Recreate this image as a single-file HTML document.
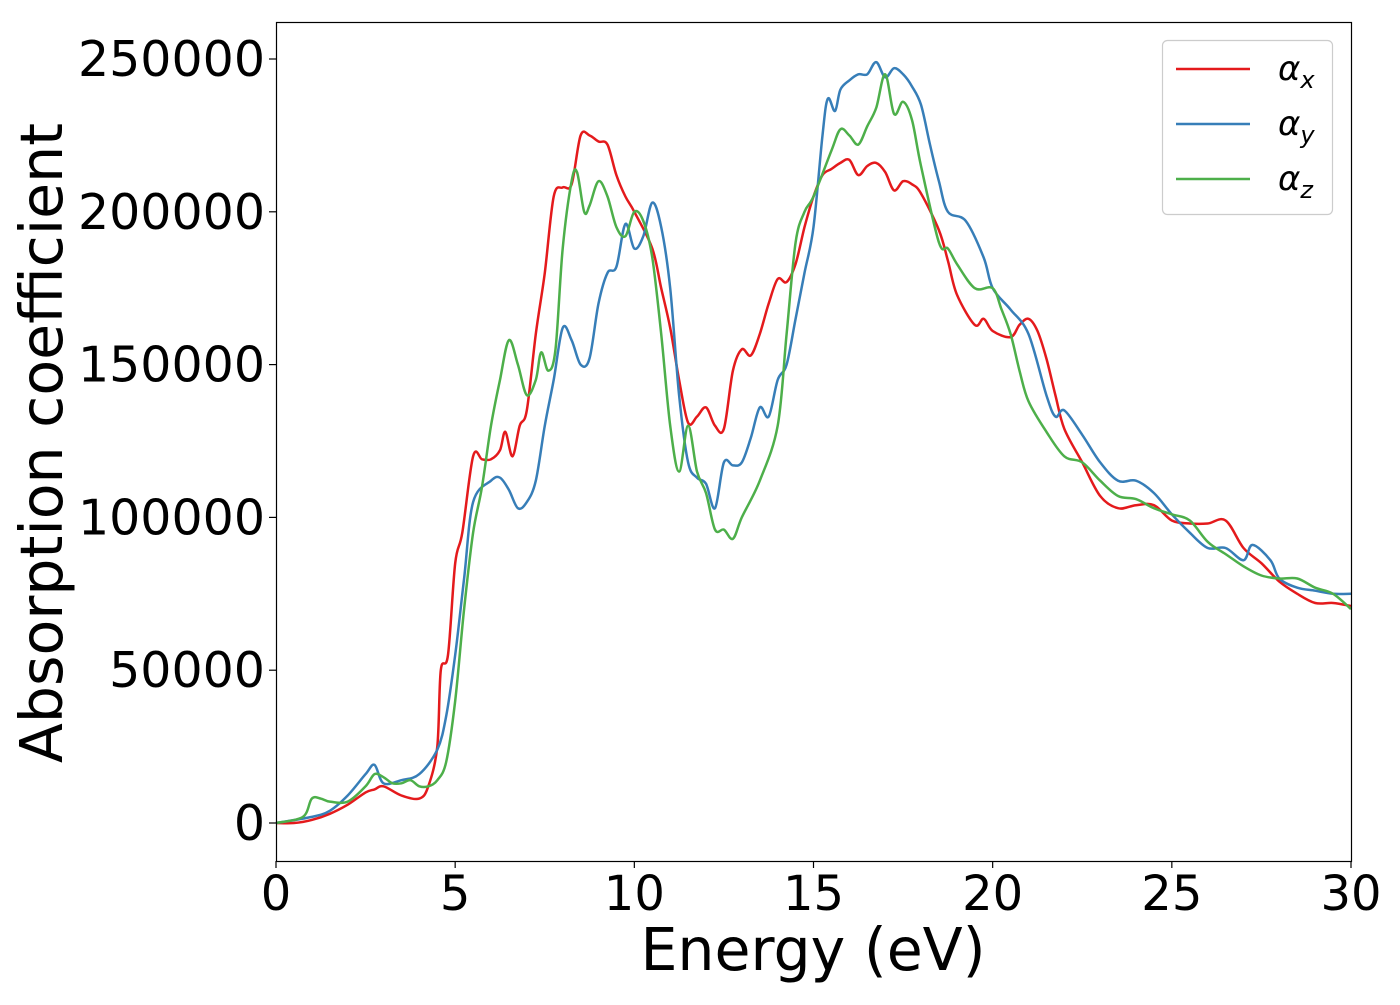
<!DOCTYPE html>
<html><head><meta charset="utf-8"><style>
body{margin:0;background:#fff;}
svg text{font-family:"DejaVu Sans","Liberation Sans",sans-serif;fill:#000;}
</style></head><body>
<svg id="chart" width="1400" height="1000" viewBox="0 0 1400 1000">
<g id="series"></g>
<rect x="276.5" y="22.5" width="1075" height="839" fill="none" stroke="#000" stroke-width="1.2"/>
<g id="ticks"></g>
<text x="813" y="970" font-size="58.5" text-anchor="middle">Energy (eV)</text>
<text transform="translate(62,443) rotate(-90)" font-size="58.5" text-anchor="middle">Absorption coefficient</text>
<g id="legend">
<rect x="1162.5" y="40.5" width="170" height="174" rx="5" fill="#fff" stroke="#ccc" stroke-width="1.2"/>
</g>
</svg>
<script>
const xTicks=[0,5,10,15,20,25,30];
const yTicks=[0,50000,100000,150000,200000,250000];
const seriesNames=["x","y","z"];
const seriesColors=["#e41a1c","#377eb8","#4daf4a"];
const redE=[0,0.5,1,1.5,2,2.5,2.75,3,3.5,4,4.25,4.5,4.6,4.8,5,5.2,5.5,5.75,6,6.25,6.4,6.6,6.8,7,7.25,7.5,7.75,8,8.25,8.5,8.75,9,9.25,9.5,9.75,10,10.5,10.75,11,11.25,11.5,11.75,12,12.25,12.5,12.75,13,13.25,13.5,13.75,14,14.25,14.5,14.75,15,15.25,15.5,15.75,16,16.25,16.5,16.75,17,17.25,17.5,17.75,18,18.5,18.75,19,19.5,19.75,20,20.5,20.75,21,21.25,21.5,21.75,22,22.5,23,23.5,24,24.5,25,25.5,26,26.5,27,27.5,28,28.5,29,29.5,30];
const redV=[0,0,1000,3000,6000,10000,11000,12000,9000,8000,12000,25000,50000,55000,85000,95000,120000,119000,119000,122000,128000,120000,130000,135000,160000,180000,205000,208000,209000,225000,225000,223000,222000,212000,205000,200000,188000,175000,162000,145000,131000,133000,136000,130000,129000,148000,155000,153000,160000,170000,178000,177000,183000,195000,205000,212000,214000,216000,217000,212000,215000,216000,213000,207000,210000,209000,206000,194000,184000,173000,163000,165000,161000,159000,163000,165000,161000,152000,140000,129000,118000,107000,103000,104000,104000,99000,98000,98000,99000,90000,85000,79000,75000,72000,72000,71000];
const blueE=[0,1,1.5,2,2.5,2.75,3,3.5,4,4.5,4.75,5,5.25,5.5,6,6.25,6.5,6.75,7,7.25,7.5,7.75,8,8.25,8.5,8.75,9,9.25,9.5,9.75,10,10.25,10.5,10.75,11,11.25,11.5,11.75,12,12.25,12.5,12.75,13,13.25,13.5,13.75,14,14.25,14.5,14.75,15,15.25,15.4,15.6,15.75,16,16.25,16.5,16.75,17,17.25,17.5,17.75,18,18.25,18.5,18.75,19.25,19.75,20,20.5,21,21.5,21.75,22,22.5,23,23.5,24,24.5,25,25.5,26,26.5,27,27.25,27.75,28,28.5,29,29.5,30];
const blueV=[0,2000,4000,9000,16000,19000,13000,14000,16000,24000,35000,55000,80000,105000,112000,113000,109000,103000,105000,112000,130000,145000,162000,158000,150000,152000,170000,180000,182000,196000,188000,192000,203000,195000,175000,140000,118000,113000,111000,103000,118000,117000,118000,126000,136000,133000,145000,150000,165000,180000,195000,225000,237000,233000,240000,243000,245000,245000,249000,244000,247000,245000,241000,235000,222000,210000,200000,197000,185000,175000,168000,160000,140000,133000,135000,127000,118000,112000,112000,108000,101000,95000,90000,90000,86000,91000,86000,80000,77000,76000,75000,75000];
const greenE=[0,0.75,1,1.25,1.5,2,2.5,2.75,3,3.25,3.5,3.75,4,4.25,4.5,4.75,5,5.25,5.5,5.75,6,6.25,6.5,6.75,7,7.25,7.4,7.6,7.8,8,8.25,8.4,8.6,8.75,9,9.25,9.5,9.75,10,10.25,10.5,10.75,11,11.25,11.5,11.75,12,12.25,12.5,12.75,13,13.5,14,14.25,14.5,14.75,15,15.5,15.75,16,16.25,16.5,16.75,17,17.25,17.5,17.75,18,18.5,18.75,19,19.5,20,20.25,20.5,20.75,21,21.5,22,22.5,23,23.5,24,24.5,25,25.5,26,26.5,27,27.5,28,28.5,29,29.5,30];
const greenV=[0,2000,8000,8000,7000,7000,12000,16000,15000,13000,13000,14000,12000,12000,14000,20000,40000,70000,95000,110000,130000,145000,158000,150000,140000,145000,154000,148000,155000,188000,210000,213000,200000,202000,210000,205000,195000,192000,200000,197000,185000,160000,130000,115000,130000,115000,108000,96000,96000,93000,100000,112000,130000,160000,190000,200000,205000,220000,227000,225000,222000,228000,234000,245000,232000,236000,230000,215000,190000,188000,183000,175000,175000,168000,160000,148000,138000,128000,120000,118000,112000,107000,106000,103000,101000,99000,92000,88000,84000,81000,80000,80000,77000,75000,70000];

const X0=276,X1=1351,Y0=823,Y250=59;
const xs=e=>X0+(e/30)*(X1-X0);
const ys=v=>Y0-(v/250000)*(Y0-Y250);
const NS="http://www.w3.org/2000/svg";
const ticks=document.getElementById('ticks');
xTicks.forEach(t=>{
  const l=document.createElementNS(NS,'line');
  l.setAttribute('x1',xs(t));l.setAttribute('x2',xs(t));l.setAttribute('y1',861);l.setAttribute('y2',868);
  l.setAttribute('stroke','#000');l.setAttribute('stroke-width','1.2');
  
  
  ticks.appendChild(l);
  const tx=document.createElementNS(NS,'text');
  tx.setAttribute('x',xs(t));tx.setAttribute('y',910);tx.setAttribute('font-size','48');tx.setAttribute('text-anchor','middle');
  tx.textContent=t;
  
  
  ticks.appendChild(tx);
});
yTicks.forEach(t=>{
  const l=document.createElementNS(NS,'line');
  l.setAttribute('x1',269);l.setAttribute('x2',276);l.setAttribute('y1',ys(t));l.setAttribute('y2',ys(t));
  l.setAttribute('stroke','#000');l.setAttribute('stroke-width','1.2');
  
  
  ticks.appendChild(l);
  const tx=document.createElementNS(NS,'text');
  tx.setAttribute('x',265);tx.setAttribute('y',ys(t)+17);tx.setAttribute('font-size','49');tx.setAttribute('text-anchor','end');
  tx.textContent=t;
  
  
  ticks.appendChild(tx);
});
function smoothPath(P){
  let d='M'+P[0][0].toFixed(1)+','+P[0][1].toFixed(1);
  for(let i=0;i<P.length-1;i++){
    const p0=P[Math.max(0,i-1)],p1=P[i],p2=P[i+1],p3=P[Math.min(P.length-1,i+2)];
    const c1x=p1[0]+(p2[0]-p0[0])/6,c1y=p1[1]+(p2[1]-p0[1])/6;
    const c2x=p2[0]-(p3[0]-p1[0])/6,c2y=p2[1]-(p3[1]-p1[1])/6;
    d+=' C'+c1x.toFixed(1)+','+c1y.toFixed(1)+' '+c2x.toFixed(1)+','+c2y.toFixed(1)+' '+p2[0].toFixed(1)+','+p2[1].toFixed(1);
  }
  return d;
}
const data=[[redE,redV],[blueE,blueV],[greenE,greenV]];
const sg=document.getElementById('series');
data.forEach((d,i)=>{
  const P=d[0].map((e,k)=>[xs(e),ys(d[1][k])]);
  const p=document.createElementNS(NS,'path');
  p.setAttribute('d',smoothPath(P));p.setAttribute('fill','none');p.setAttribute('stroke',seriesColors[i]);
  p.setAttribute('stroke-width','2.5');p.setAttribute('stroke-linejoin','round');
  
  
  sg.appendChild(p);
});
const lg=document.getElementById('legend');
seriesNames.forEach((n,i)=>{
  const y=69+i*55;
  const l=document.createElementNS(NS,'line');
  l.setAttribute('x1',1176);l.setAttribute('x2',1250);l.setAttribute('y1',y);l.setAttribute('y2',y);
  l.setAttribute('stroke',seriesColors[i]);l.setAttribute('stroke-width','2.5');
  
  
  lg.appendChild(l);
  const t=document.createElementNS(NS,'text');
  t.setAttribute('x',1278);t.setAttribute('y',y+11);t.setAttribute('font-size','34');t.setAttribute('font-style','italic');
  t.innerHTML='α<tspan font-size="24" dy="8">'+n+'</tspan>';
  
  
  lg.appendChild(t);
});
</script>
</body></html>
